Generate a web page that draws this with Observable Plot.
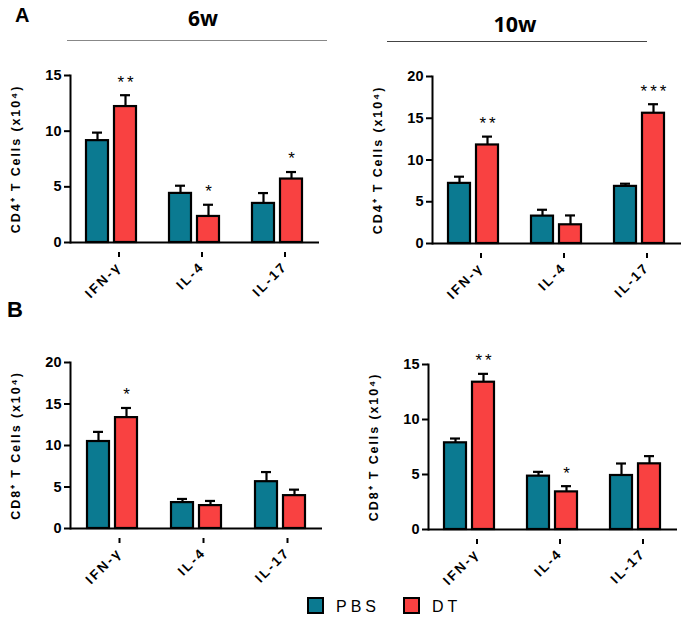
<!DOCTYPE html>
<html><head><meta charset="utf-8">
<script src="https://cdn.jsdelivr.net/npm/d3@7"></script>
<script src="https://cdn.jsdelivr.net/npm/@observablehq/plot@0.6"></script>
<style>
body{margin:0;background:#fff;font-family:"Liberation Sans",Arial,sans-serif;color:#000;}
#root{position:relative;width:685px;height:617px;overflow:hidden;background:#fff;}
.panel{position:absolute;}
.hdr{position:absolute;font-weight:bold;white-space:nowrap;line-height:1;}
.hline{position:absolute;height:0;border-top:1.5px solid #777;}
.sw{position:absolute;width:13px;height:13px;border:2.5px solid #000;}
.lt{position:absolute;font-size:16px;letter-spacing:4px;line-height:16px;}
g[aria-label="y-axis label"]{font-size:12.5px;letter-spacing:1.9px;}
g[aria-label="fx-axis tick label"] text{letter-spacing:2.2px;}
g[aria-label="text"] text{letter-spacing:3px;}
</style></head>
<body><div id="root">
<div class="hdr" style="left:15px;top:5px;font-size:20px;">A</div>
<div class="hdr" style="left:203px;top:8px;font-size:21px;transform:translateX(-50%);font-family:'Open Sans',sans-serif;">6w</div>
<div class="hline" style="left:67px;top:40px;width:260px;border-color:#888;"></div>
<div class="hdr" style="left:515px;top:13px;font-size:21.5px;transform:translateX(-50%);font-family:'Open Sans',sans-serif;">10w</div>
<div class="hline" style="left:387px;top:41px;width:260px;border-color:#444;"></div>
<div class="hdr" style="left:7px;top:299px;font-size:22px;">B</div>
<div id="pA6" class="panel" style="left:0;top:60px;"></div>
<div id="pA10" class="panel" style="left:345px;top:60px;"></div>
<div id="pB6" class="panel" style="left:0;top:340px;"></div>
<div id="pB10" class="panel" style="left:345px;top:340px;"></div>
<div class="sw" style="left:307px;top:597px;background:#0B7A91;"></div>
<div class="lt" style="left:336px;top:599px;">PBS</div>
<div class="sw" style="left:403px;top:597px;background:#F94141;"></div>
<div class="lt" style="left:432px;top:599px;">DT</div>
</div>
<script>
const cytokines = ["IFN-γ", "IL-4", "IL-17"];
const groups = ["PBS", "DT"];
const groupColors = ["#0B7A91", "#F94141"];

// Panel A, 6w (CD4+)
const a6Pbs = [9.15, 4.41, 3.51];
const a6PbsSem = [0.72, 0.69, 0.93];
const a6Dt = [12.21, 2.34, 5.70];
const a6DtSem = [1.02, 1.05, 0.63];
const a6Sig = ["**", "*", "*"];

// Panel A, 10w (CD4+)
const a10Pbs = [7.20, 3.28, 6.84];
const a10PbsSem = [0.80, 0.76, 0.32];
const a10Dt = [11.80, 2.24, 15.60];
const a10DtSem = [1.00, 1.12, 1.08];
const a10Sig = ["**", "", "***"];

// Panel B, 6w (CD8+)
const b6Pbs = [10.48, 3.12, 5.64];
const b6PbsSem = [1.16, 0.44, 1.16];
const b6Dt = [13.36, 2.76, 3.96];
const b6DtSem = [1.16, 0.56, 0.72];
const b6Sig = ["*", "", ""];

// Panel B, 10w (CD8+)
const b10Pbs = [7.88, 4.85, 4.91];
const b10PbsSem = [0.39, 0.39, 1.09];
const b10Dt = [13.39, 3.42, 5.97];
const b10DtSem = [0.76, 0.52, 0.70];
const b10Sig = ["**", "*", ""];

const ticks15 = [0, 5, 10, 15];
const ticks20 = [0, 5, 10, 15, 20];
const labelCD4 = "CD4⁺ T Cells (x10⁴)";
const labelCD8 = "CD8⁺ T Cells (x10⁴)";

function buildRows(pbs, pbsSem, dt, dtSem, sig) {
  const rows = [];
  cytokines.forEach((c, i) => {
    rows.push({cyto: c, group: "PBS", mean: pbs[i], hi: pbs[i] + pbsSem[i], sig: ""});
    rows.push({cyto: c, group: "DT", mean: dt[i], hi: dt[i] + dtSem[i], sig: sig[i]});
  });
  return rows;
}

function panel(rows, {yMax, yTicks, ylabel, width, height, mL, mR, mT, mB}) {
  return Plot.plot({
    width, height,
    marginLeft: mL, marginRight: mR, marginTop: mT, marginBottom: mB,
    style: {fontFamily: "'Liberation Sans', Arial, sans-serif", color: "#000", background: "transparent", overflow: "visible"},
    fx: {domain: cytokines, padding: 0, label: null},
    x: {domain: groups, paddingInner: 0.2, paddingOuter: 0.55, axis: null},
    y: {domain: [0, yMax], label: null},
    color: {domain: groups, range: groupColors},
    marks: [
      Plot.frame({anchor: "left", facetAnchor: "left", strokeWidth: 2}),
      Plot.ruleY([0], {strokeWidth: 2}),
      Plot.barY(rows, {fx: "cyto", x: "group", y: "mean", fill: "group", stroke: "#000", strokeWidth: 2.2}),
      Plot.ruleX(rows, {fx: "cyto", x: "group", y1: "mean", y2: "hi", strokeWidth: 2.2}),
      Plot.tickY(rows, {fx: "cyto", x: "group", y: "hi", inset: 6, strokeWidth: 2.2}),
      Plot.text(rows.filter(d => d.sig), {fx: "cyto", x: "group", y: "hi", text: "sig", dy: -13, dx: 1.5, fontSize: 17, lineAnchor: "middle"}),
      Plot.axisY({ticks: yTicks, tickSize: 6, tickPadding: 3, fontSize: 14.5, fontWeight: "bold", strokeWidth: 2,
        label: ylabel, labelAnchor: "center", labelArrow: "none", labelOffset: 59}),
      Plot.axisFx({anchor: "bottom", tickSize: 5, strokeWidth: 2, tickRotate: -45, fontSize: 13.5, fontWeight: "bold", label: null, dx: 7, dy: 10})
    ]
  });
}

document.getElementById("pA6").append(panel(buildRows(a6Pbs, a6PbsSem, a6Dt, a6DtSem, a6Sig),
  {yMax: 15, yTicks: ticks15, ylabel: labelCD4, width: 340, height: 240, mL: 69, mR: 20, mT: 15, mB: 58}));
document.getElementById("pA10").append(panel(buildRows(a10Pbs, a10PbsSem, a10Dt, a10DtSem, a10Sig),
  {yMax: 20, yTicks: ticks20, ylabel: labelCD4, width: 340, height: 240, mL: 86, mR: 3, mT: 16, mB: 57}));
document.getElementById("pB6").append(panel(buildRows(b6Pbs, b6PbsSem, b6Dt, b6DtSem, b6Sig),
  {yMax: 20, yTicks: ticks20, ylabel: labelCD8, width: 340, height: 250, mL: 69, mR: 17, mT: 22, mB: 62}));
document.getElementById("pB10").append(panel(buildRows(b10Pbs, b10PbsSem, b10Dt, b10DtSem, b10Sig),
  {yMax: 15, yTicks: ticks15, ylabel: labelCD8, width: 340, height: 250, mL: 82, mR: 8, mT: 24, mB: 61}));
</script>
</body></html>
